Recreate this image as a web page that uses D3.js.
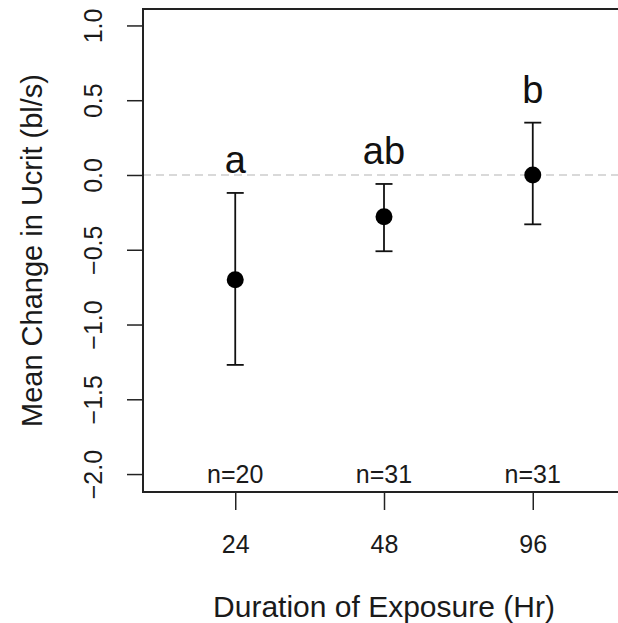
<!DOCTYPE html>
<html>
<head>
<meta charset="utf-8">
<script src="https://cdn.jsdelivr.net/npm/d3@7"></script>
<style>
  body { margin: 0; background: #fff; }
  svg { display: block; font-family: "Liberation Sans", Arial, sans-serif; }
</style>
</head>
<body>
<svg id="chart" width="618" height="623"></svg>
<script>
"use strict";

// данные
const durations = ["24", "48", "96"];          // часы экспозиции
const meanChange = [-0.70, -0.28, 0.00];         // среднее изменение Ucrit
const upperCI = [-0.12, -0.06, 0.35];
const lowerCI = [-1.27, -0.51, -0.33];
const groupLetters = ["a", "ab", "b"];
const sampleSizes = ["n=20", "n=31", "n=31"];
const yTicks = [-2.0, -1.5, -1.0, -0.5, 0.0, 0.5, 1.0];

const svg = d3.select("#chart");

// область графика (правый край уходит за кадр, как на исходнике)
const box = { left: 143, right: 625, top: 9, bottom: 492 };

const x = d3.scaleLinear().domain([0.38, 3.62]).range([box.left, box.right]);
const y = d3.scaleLinear().domain([-2.12, 1.11]).range([box.bottom, box.top]);

const rows = durations.map((d, i) => ({
    pos: i + 1,
    label: d,
    mean: meanChange[i],
    hi: upperCI[i],
    lo: lowerCI[i],
    letter: groupLetters[i],
    n: sampleSizes[i]
}));

// пунктир на нуле
svg.append("line")
    .attr("x1", box.left).attr("x2", box.right)
    .attr("y1", y(0)).attr("y2", y(0))
    .attr("stroke", "#b4b4b4")
    .attr("stroke-width", 1.2)
    .attr("stroke-dasharray", "8,5");

// ось Y
const yAxis = svg.append("g")
    .attr("transform", `translate(${box.left},0)`)
    .call(d3.axisLeft(y).tickValues(yTicks).tickSize(16).tickFormat(d3.format(".1f")));
yAxis.select(".domain").remove();
yAxis.selectAll("line").attr("stroke", "#222").attr("stroke-width", 1.5);
yAxis.selectAll("text")
    .attr("x", null).attr("dy", null)
    .attr("text-anchor", "middle")
    .attr("transform", "translate(-41,0) rotate(-90)")
    .attr("fill", "#1a1a1a")
    .style("font-size", "25px");

// ось X
const xAxis = svg.append("g")
    .attr("transform", `translate(0,${box.bottom})`)
    .call(d3.axisBottom(x).tickValues(rows.map(r => r.pos))
        .tickSize(18).tickFormat((d, i) => durations[i]));
xAxis.select(".domain").remove();
xAxis.selectAll("line").attr("stroke", "#222").attr("stroke-width", 1.5);
xAxis.selectAll("text")
    .attr("y", 61).attr("dy", null)
    .attr("fill", "#1a1a1a")
    .style("font-size", "25px");

// рамка
svg.append("rect")
    .attr("x", box.left).attr("y", box.top)
    .attr("width", box.right - box.left)
    .attr("height", box.bottom - box.top)
    .attr("fill", "none")
    .attr("stroke", "#222")
    .attr("stroke-width", 2);

// доверительные интервалы
const bars = svg.append("g").attr("stroke", "#111").attr("stroke-width", 1.8);
bars.selectAll(".whisker").data(rows).join("line")
    .attr("class", "whisker")
    .attr("x1", d => x(d.pos)).attr("x2", d => x(d.pos))
    .attr("y1", d => y(d.hi)).attr("y2", d => y(d.lo));
["hi", "lo"].forEach(k => {
    bars.selectAll(".cap-" + k).data(rows).join("line")
        .attr("class", "cap-" + k)
        .attr("x1", d => x(d.pos) - 8.5).attr("x2", d => x(d.pos) + 8.5)
        .attr("y1", d => y(d[k])).attr("y2", d => y(d[k]));
});

// средние
svg.selectAll(".pt").data(rows).join("circle")
    .attr("class", "pt")
    .attr("cx", d => x(d.pos))
    .attr("cy", d => y(d.mean))
    .attr("r", 8.5)
    .attr("fill", "#000");

// буквы значимости над интервалами
svg.selectAll(".letter").data(rows).join("text")
    .attr("class", "letter")
    .attr("x", d => x(d.pos))
    .attr("y", d => y(d.hi) - 20)
    .attr("text-anchor", "middle")
    .attr("fill", "#111")
    .style("font-size", "38px")
    .text(d => d.letter);

// размеры выборок у нижней границы
svg.selectAll(".nlab").data(rows).join("text")
    .attr("class", "nlab")
    .attr("x", d => x(d.pos))
    .attr("y", 483)
    .attr("text-anchor", "middle")
    .attr("fill", "#1a1a1a")
    .style("font-size", "25px")
    .text(d => d.n);

// подписи осей
svg.append("text")
    .attr("x", x(2)).attr("y", 617)
    .attr("text-anchor", "middle")
    .attr("fill", "#1a1a1a")
    .style("font-size", "30px")
    .text("Duration of Exposure (Hr)");

svg.append("text")
    .attr("transform", `translate(42,${(box.top + box.bottom) / 2}) rotate(-90)`)
    .attr("text-anchor", "middle")
    .attr("fill", "#1a1a1a")
    .style("font-size", "29px")
    .text("Mean Change in Ucrit (bl/s)");
</script>
</body>
</html>
